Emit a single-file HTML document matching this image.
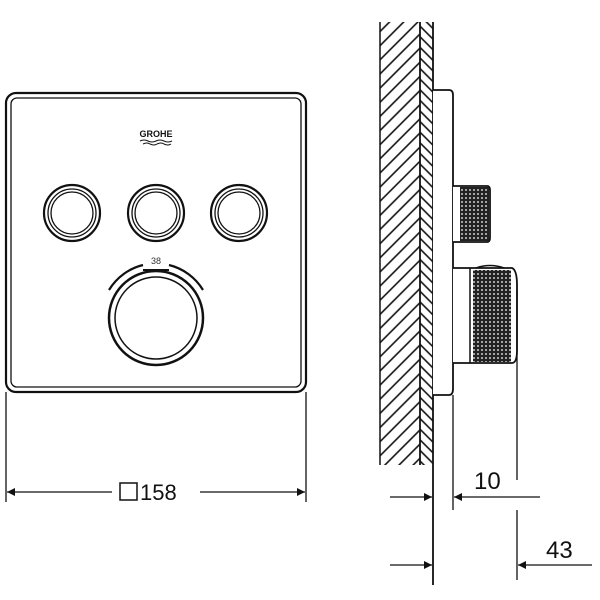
<!DOCTYPE html>
<html><head><style>body{margin:0;background:#fff}svg{display:block}</style></head>
<body>
<svg width="600" height="600" viewBox="0 0 600 600" xmlns="http://www.w3.org/2000/svg" font-family="Liberation Sans, sans-serif">
<defs>
<pattern id="h1" width="10" height="10" patternUnits="userSpaceOnUse" patternTransform="rotate(45)">
<line x1="1" y1="0" x2="1" y2="10" stroke="#111" stroke-width="1.6"/></pattern>
<pattern id="h2" width="7.5" height="7.5" patternUnits="userSpaceOnUse" patternTransform="rotate(-45)">
<line x1="1" y1="0" x2="1" y2="7.5" stroke="#111" stroke-width="1.6"/></pattern>
<pattern id="kn" width="4" height="4" patternUnits="userSpaceOnUse">
<rect width="4" height="4" fill="#222"/><circle cx="2" cy="2" r="0.9" fill="#fff"/></pattern>
<marker id="a" viewBox="0 0 10 10" refX="10" refY="5" markerWidth="14" markerHeight="8" markerUnits="userSpaceOnUse" orient="auto-start-reverse"><path d="M0 0L10 5L0 10z" fill="#111"/></marker>
</defs>
<g fill="none" stroke="#111">
<rect x="6" y="93" width="300" height="299" rx="10" stroke-width="2.2"/>
<rect x="11" y="98" width="290" height="289" rx="6" stroke-width="1.3"/>
<circle cx="72" cy="213" r="28" stroke-width="2.2"/><circle cx="72" cy="213" r="24" stroke-width="1.3"/><circle cx="72" cy="213" r="21" stroke-width="1.3"/>
<circle cx="156" cy="213" r="28" stroke-width="2.2"/><circle cx="156" cy="213" r="24" stroke-width="1.3"/><circle cx="156" cy="213" r="21" stroke-width="1.3"/>
<circle cx="239" cy="213" r="28" stroke-width="2.2"/><circle cx="239" cy="213" r="24" stroke-width="1.3"/><circle cx="239" cy="213" r="21" stroke-width="1.3"/>
<circle cx="156" cy="318" r="47" stroke-width="2.5"/><circle cx="156" cy="318" r="41" stroke-width="1.5"/>
<path d="M109 290 A55 55 0 0 1 143 265" stroke-width="2.2"/>
<path d="M169 265 A55 55 0 0 1 203 290" stroke-width="2.2"/>
<line x1="143" y1="270" x2="169" y2="270" stroke-width="2"/>
<line x1="6" y1="392" x2="6" y2="502" stroke-width="1.3"/>
<line x1="306" y1="392" x2="306" y2="502" stroke-width="1.3"/>
<line x1="112" y1="492" x2="7" y2="492" stroke-width="1.3" marker-end="url(#a)"/>
<line x1="200" y1="492" x2="305" y2="492" stroke-width="1.3" marker-end="url(#a)"/>
<rect x="120" y="483" width="17" height="17" stroke-width="1.5"/>
</g>
<text x="156" y="137" font-size="9" font-weight="bold" text-anchor="middle" fill="#111">GROHE</text>
<path d="M140 141 q4 -2 8 0 q4 2 8 0 q4 -2 8 0 q4 2 8 0" fill="none" stroke="#111" stroke-width="1"/>
<path d="M143 144 q4 -2 7 0 q4 2 7 0 q4 -2 7 0 q4 2 7 0" fill="none" stroke="#111" stroke-width="1"/>
<text x="156" y="264" font-size="9" text-anchor="middle" fill="#333">38</text>
<text x="140" y="500" font-size="22" fill="#111">158</text>
<rect x="380" y="22" width="40" height="443" fill="url(#h1)"/>
<rect x="420" y="22" width="13" height="443" fill="url(#h2)"/>
<g fill="none" stroke="#111">
<line x1="380" y1="22" x2="380" y2="465" stroke-width="1.5"/>
<line x1="420" y1="22" x2="420" y2="465" stroke-width="1.8"/>
<line x1="433" y1="22" x2="433" y2="585" stroke-width="1.8"/>
<path d="M433 90 H449 Q453 90 453 95 V389 Q453 395 449 395 H433" stroke-width="1.8" fill="#fff"/>
<path d="M453 186 H487 Q490 186 490 190 V238 Q490 242 487 242 H453" stroke-width="1.8" fill="#fff"/>
<rect x="460" y="187" width="29" height="54" fill="url(#kn)" stroke="none"/>
<path d="M453 268 H512 Q517 270 517 285 V350 Q517 363 512 363 H453" stroke-width="1.8" fill="#fff"/>
<line x1="470" y1="268" x2="470" y2="363" stroke-width="1.5"/>
<rect x="473" y="270" width="38" height="92" fill="url(#kn)" stroke="none"/>
<path d="M476 268 Q490 263 504 268" stroke-width="1.5"/>
<line x1="517" y1="290" x2="517" y2="480" stroke-width="1.3"/>
<line x1="517" y1="510" x2="517" y2="580" stroke-width="1.3"/>
<line x1="453" y1="395" x2="453" y2="510" stroke-width="1.3"/>
<line x1="390" y1="497" x2="432" y2="497" stroke-width="1.3" marker-end="url(#a)"/>
<line x1="540" y1="497" x2="454" y2="497" stroke-width="1.3" marker-end="url(#a)"/>
<line x1="390" y1="565" x2="432" y2="565" stroke-width="1.3" marker-end="url(#a)"/>
<line x1="592" y1="565" x2="518" y2="565" stroke-width="1.3" marker-end="url(#a)"/>
</g>
<text x="474" y="489" font-size="24" fill="#111">10</text>
<text x="546" y="558" font-size="24" fill="#111">43</text>
</svg>
</body></html>
